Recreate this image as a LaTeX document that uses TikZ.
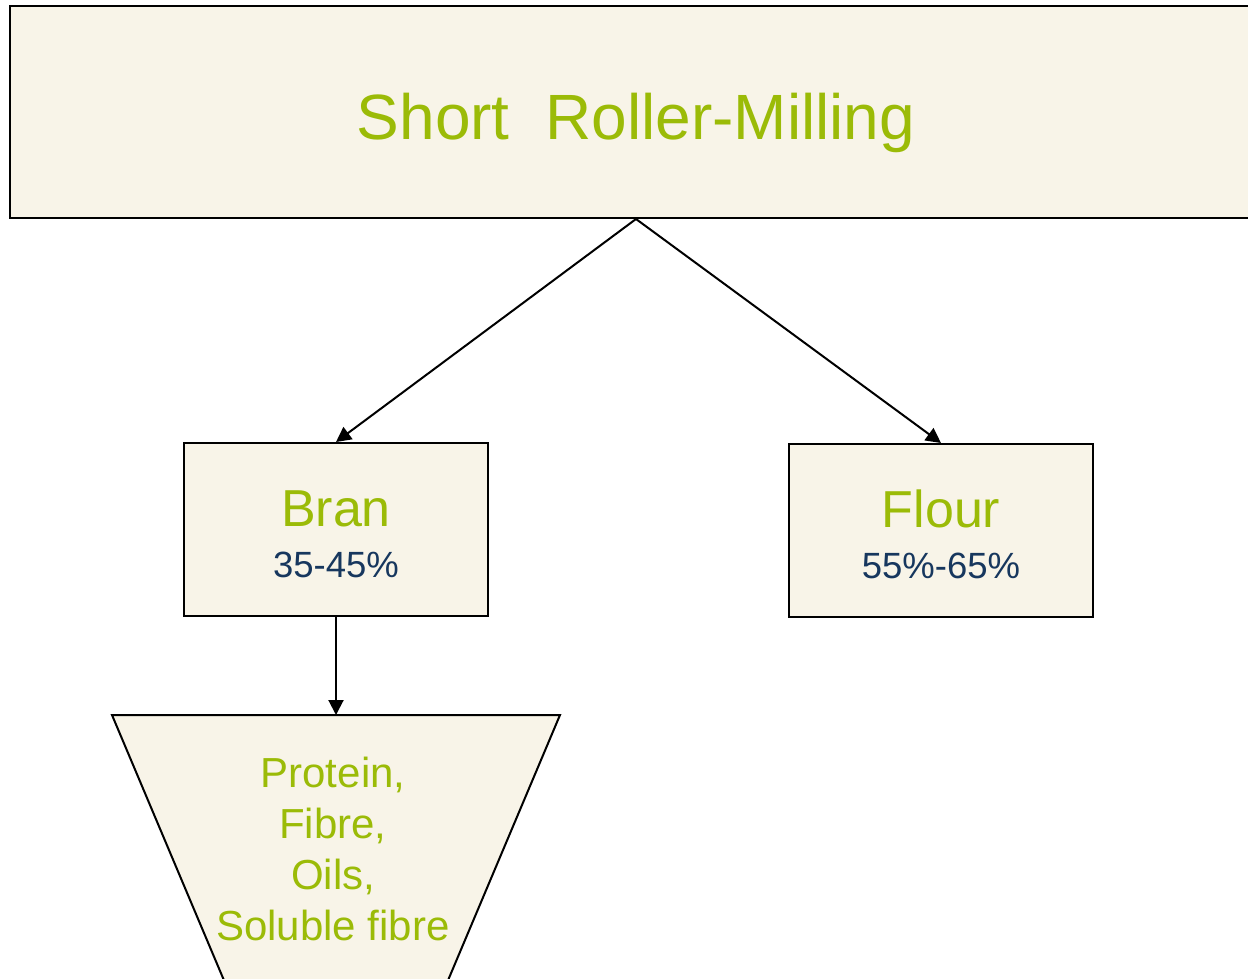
\documentclass[tikz,border=0pt]{standalone}
\usepackage{fontspec}
\setmainfont{Liberation Sans}
\usetikzlibrary{arrows.meta}
\definecolor{boxfill}{HTML}{F8F4E8}
\definecolor{lgreen}{HTML}{9BBB07}
\definecolor{dblue}{HTML}{17375E}
\tikzset{
  box/.style={draw=black, fill=boxfill, line width=2pt, inner sep=0pt},
  conn/.style={line width=2pt, -{Triangle[length=15pt,width=15pt]}},
}
\begin{document}
\begin{tikzpicture}[x=1pt,y=-1pt]
\useasboundingbox (0,0) rectangle (1248,978);
\clip (0,0) rectangle (1248,978);
% top box
\node[box, minimum width=1252pt, minimum height=212pt] (top) at (636,112) {};
\node[anchor=base, text=lgreen, inner sep=0pt, font=\fontsize{64}{77}\selectfont] (title) at (636,139)
  {Short\ \ Roller-Milling};
% bran box
\node[box, minimum width=304pt, minimum height=173pt] (bran) at (336,529.5) {};
\node[anchor=base, text=lgreen, inner sep=0pt, font=\fontsize{52}{62}\selectfont] (brant) at (336,526)
  {Bran};
\node[anchor=base, text=dblue, inner sep=0pt, font=\fontsize{36.5}{44}\selectfont] (branp) at (336,577)
  {35-45\%};
% flour box
\node[box, minimum width=304pt, minimum height=173pt] (flour) at (941,530.5) {};
\node[anchor=base, text=lgreen, inner sep=0pt, font=\fontsize{52}{62}\selectfont] (flourt) at (941,527)
  {Flour};
\node[anchor=base, text=dblue, inner sep=0pt, font=\fontsize{36.5}{44}\selectfont] (flourp) at (941,578)
  {55\%-65\%};
% trapezoid (funnel)
\coordinate (trap) at (336,715);
\filldraw[fill=boxfill, draw=black, line width=2pt]
  (112,715) -- (560,715) -- (437.9,1004.3) -- (234.1,1004.3) -- cycle;
\node[text=lgreen, align=center, inner sep=0pt, anchor=north, font=\fontsize{42}{51}\selectfont] (comp) at (333,757)
  {Protein,\\Fibre,\\Oils,\\Soluble fibre};
% connectors
\draw[conn] (top.south) -- (bran.north);
\draw[conn] (top.south) -- (flour.north);
\draw[conn] (bran.south) -- (trap);
\end{tikzpicture}
\end{document}
